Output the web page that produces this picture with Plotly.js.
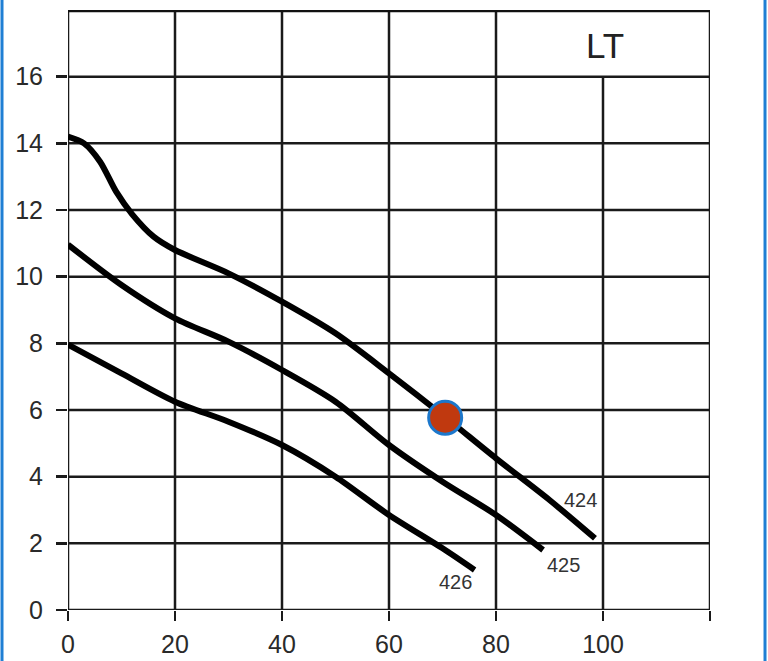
<!DOCTYPE html>
<html>
<head>
<meta charset="utf-8">
<script src="https://cdn.plot.ly/plotly-3.0.1.min.js"></script>
<style>html,body{margin:0;padding:0;background:#fff;}#chart{width:768px;height:661px;}</style>
</head>
<body>
<div id="chart"></div>
<script>
// Curve 424
const x424 = [0, 3, 6, 9, 12, 16, 20, 30, 40, 50, 60, 70, 80, 90, 98.5];
const y424 = [14.2, 14.0, 13.45, 12.55, 11.87, 11.2, 10.8, 10.1, 9.25, 8.3, 7.1, 5.85, 4.55, 3.3, 2.15];
// Curve 425
const x425 = [0, 10, 20, 30, 40, 50, 60, 70, 80, 88.8];
const y425 = [10.96, 9.75, 8.75, 8.05, 7.2, 6.25, 4.95, 3.85, 2.85, 1.8];
// Curve 426
const x426 = [0, 10, 20, 30, 40, 50, 60, 70, 76];
const y426 = [7.96, 7.1, 6.25, 5.65, 4.95, 4.0, 2.85, 1.85, 1.2];
// Operating point
const pointX = [70.5];
const pointY = [5.77];
// Curve labels
const labelText = ['424', '425', '426'];
const labelX = [95.8, 92.6, 72.5];
const labelY = [3.3, 1.35, 0.85];
// Ticks
const xTicks = [0, 20, 40, 60, 80, 100, 120];
const xTickText = ['0', '20', '40', '60', '80', '100', ''];
const yTicks = [0, 2, 4, 6, 8, 10, 12, 14, 16];
const yTop = 18;
const boxLabel = 'LT';

const fontFam = 'Liberation Sans, Arial, sans-serif';
const lineStyle = {color: '#000', width: 6, shape: 'spline', smoothing: 0.8};
const traces = [
  {x: x424, y: y424, mode: 'lines', line: lineStyle, hoverinfo: 'skip'},
  {x: x425, y: y425, mode: 'lines', line: lineStyle, hoverinfo: 'skip'},
  {x: x426, y: y426, mode: 'lines', line: lineStyle, hoverinfo: 'skip'},
  {x: pointX, y: pointY, mode: 'markers',
   marker: {size: 33, color: '#c0390f', line: {color: '#1c78cc', width: 3}}, hoverinfo: 'skip'}
];

const shapes = [];
const gc = '#1a1a1a';
xTicks.forEach(v => {
  shapes.push({type: 'line', xref: 'x', yref: 'y', x0: v, x1: v, y0: 0, y1: (v === 100 ? 16 : yTop),
    line: {color: gc, width: 2.5}, layer: 'below'});
});
yTicks.forEach(v => {
  shapes.push({type: 'line', xref: 'x', yref: 'y', x0: 0, x1: 120, y0: v, y1: v,
    line: {color: gc, width: 2.5}, layer: 'below'});
});
shapes.push({type: 'line', xref: 'x', yref: 'y', x0: 0, x1: 120, y0: yTop, y1: yTop,
  line: {color: '#111', width: 4.5}, layer: 'below'});
// blue frame edges
shapes.push({type: 'line', xref: 'paper', yref: 'paper', x0: -0.1028, x1: -0.1028, y0: -0.2, y1: 1.1,
  line: {color: '#1f7fd4', width: 3}});
shapes.push({type: 'line', xref: 'paper', yref: 'paper', x0: 1.0857, x1: 1.0857, y0: -0.2, y1: 1.1,
  line: {color: '#1f7fd4', width: 3}});

const annotations = labelText.map((t, i) => ({
  x: labelX[i], y: labelY[i], text: t, showarrow: false,
  font: {family: fontFam, size: 20, color: '#333'}
}));
annotations.push({x: 100.3, y: 16.95, text: boxLabel, showarrow: false,
  font: {family: fontFam, size: 35, color: '#222'}});

const layout = {
  width: 768, height: 661,
  margin: {l: 68, r: 58, t: 10, b: 51, pad: 0},
  paper_bgcolor: '#fff', plot_bgcolor: '#fff',
  showlegend: false,
  xaxis: {range: [0, 120], tickvals: xTicks, ticktext: xTickText, showgrid: false, zeroline: false,
    showline: false, ticks: 'outside', ticklen: 10, tickwidth: 2.5, tickcolor: gc,
    ticklabelstandoff: 2, fixedrange: true,
    tickfont: {family: fontFam, size: 25, color: '#2a2a2a'}},
  yaxis: {range: [0, yTop], tickvals: yTicks, showgrid: false, zeroline: false,
    showline: false, ticks: 'outside', ticklen: 11, tickwidth: 2.5, tickcolor: gc,
    ticklabelstandoff: 8, fixedrange: true,
    tickfont: {family: fontFam, size: 25, color: '#2a2a2a'}},
  shapes: shapes,
  annotations: annotations
};

Plotly.newPlot('chart', traces, layout, {displayModeBar: false, staticPlot: true});
</script>
</body>
</html>
